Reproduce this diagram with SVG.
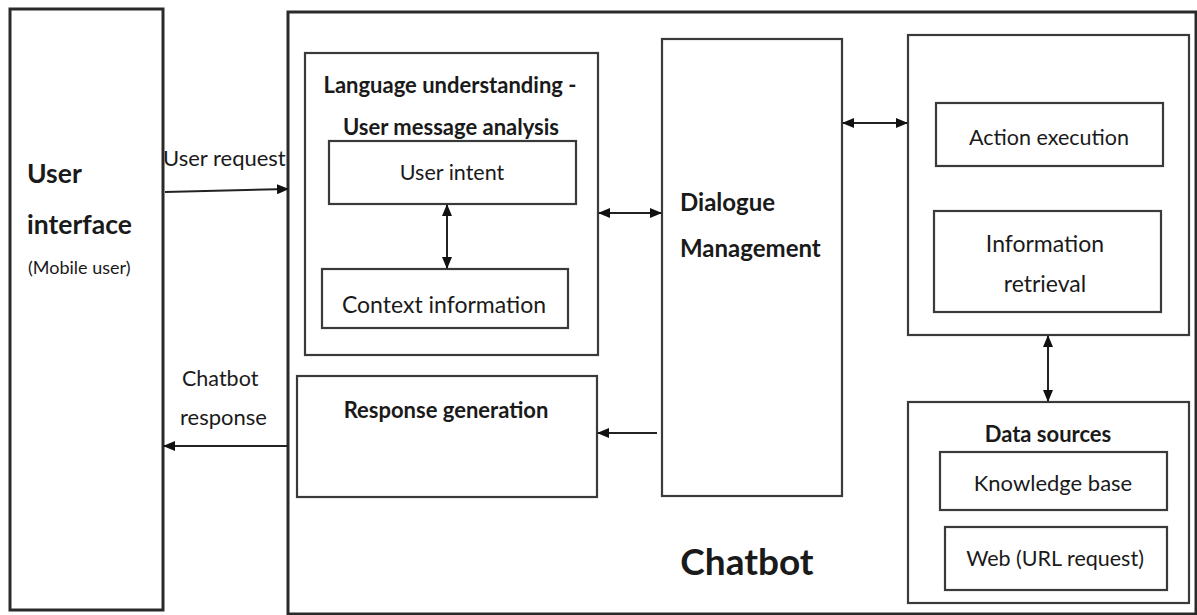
<svg xmlns="http://www.w3.org/2000/svg" width="1197" height="615" viewBox="0 0 1197 615">
<defs>
<marker id="ah" viewBox="0 0 12 10" refX="11" refY="5" markerWidth="12" markerHeight="10" markerUnits="userSpaceOnUse" orient="auto-start-reverse">
<path d="M0,0 L12,5 L0,10 Z" fill="#111"/>
</marker>
<style>
.outer{fill:#fff;stroke:#2a2a2a;stroke-width:3}
.box{fill:#fff;stroke:#3a3a3a;stroke-width:2.2}
.t{font-family:Lato,"Liberation Sans",sans-serif;fill:#1a1a1a}
.b{font-weight:bold}
.c{text-anchor:middle}
.con{stroke:#222;stroke-width:2;fill:none}
</style>
</defs>
<rect width="1197" height="615" fill="#fff"/>
<g id="user-interface">
<rect class="outer" x="10" y="9" width="153" height="601"/>
<text class="t b" x="27" y="183" font-size="26.5">User</text>
<text class="t b" x="27" y="234" font-size="26.5">interface</text>
<text class="t" x="28" y="274" font-size="18">(Mobile user)</text>
</g>
<g id="chatbot">
<rect class="outer" x="288" y="12" width="908" height="602"/>
<text class="t b c" x="747" y="575" font-size="37">Chatbot</text>
</g>
<g id="language-understanding">
<rect class="box" x="305" y="53" width="293" height="302"/>
<text class="t b c" x="450" y="93" font-size="22">Language understanding -</text>
<text class="t b c" x="451" y="135" font-size="22">User message analysis</text>
</g>
<g id="user-intent">
<rect class="box" x="329" y="141" width="247" height="63"/>
<text class="t c" x="452" y="180" font-size="21.5">User intent</text>
</g>
<g id="context-information">
<rect class="box" x="322" y="269" width="246" height="59"/>
<text class="t c" x="444" y="313" font-size="23">Context information</text>
</g>
<g id="response-generation">
<rect class="box" x="297" y="376" width="300" height="121"/>
<text class="t b c" x="446" y="418" font-size="22">Response generation</text>
</g>
<g id="dialogue-management">
<rect class="box" x="662" y="39" width="180" height="457"/>
<text class="t b" x="680" y="211" font-size="24">Dialogue</text>
<text class="t b" x="680" y="257" font-size="24">Management</text>
</g>
<g id="action-group">
<rect class="box" x="908" y="35" width="281" height="300"/>
</g>
<g id="action-execution">
<rect class="box" x="936" y="103" width="227" height="63"/>
<text class="t c" x="1049" y="145" font-size="21.5">Action execution</text>
</g>
<g id="information-retrieval">
<rect class="box" x="934" y="211" width="227" height="101"/>
<text class="t c" x="1045" y="252" font-size="23">Information</text>
<text class="t c" x="1045" y="292" font-size="23">retrieval</text>
</g>
<g id="data-sources">
<rect class="box" x="908" y="402" width="281" height="201"/>
<text class="t b c" x="1048" y="442" font-size="22">Data sources</text>
</g>
<g id="knowledge-base">
<rect class="box" x="940" y="452" width="227" height="58"/>
<text class="t c" x="1053" y="491" font-size="22">Knowledge base</text>
</g>
<g id="web">
<rect class="box" x="945" y="527" width="222" height="63"/>
<text class="t c" x="1055" y="566" font-size="21.5">Web (URL request)</text>
</g>
<g id="connectors">
<line class="con" x1="165" y1="192" x2="288" y2="189" marker-end="url(#ah)"/>
<text class="t" x="163" y="166" font-size="22">User request</text>
<line class="con" x1="288" y1="446" x2="164" y2="446" marker-end="url(#ah)"/>
<text class="t" x="182" y="386" font-size="21.5">Chatbot</text>
<text class="t" x="180" y="425" font-size="22">response</text>
<line class="con" x1="447" y1="205" x2="447" y2="268" marker-start="url(#ah)" marker-end="url(#ah)"/>
<line class="con" x1="599" y1="213" x2="661" y2="213" marker-start="url(#ah)" marker-end="url(#ah)"/>
<line class="con" x1="843" y1="123" x2="907" y2="123" marker-start="url(#ah)" marker-end="url(#ah)"/>
<line class="con" x1="657" y1="433" x2="598" y2="433" marker-end="url(#ah)"/>
<line class="con" x1="1048" y1="336" x2="1048" y2="401" marker-start="url(#ah)" marker-end="url(#ah)"/>
</g>
</svg>
